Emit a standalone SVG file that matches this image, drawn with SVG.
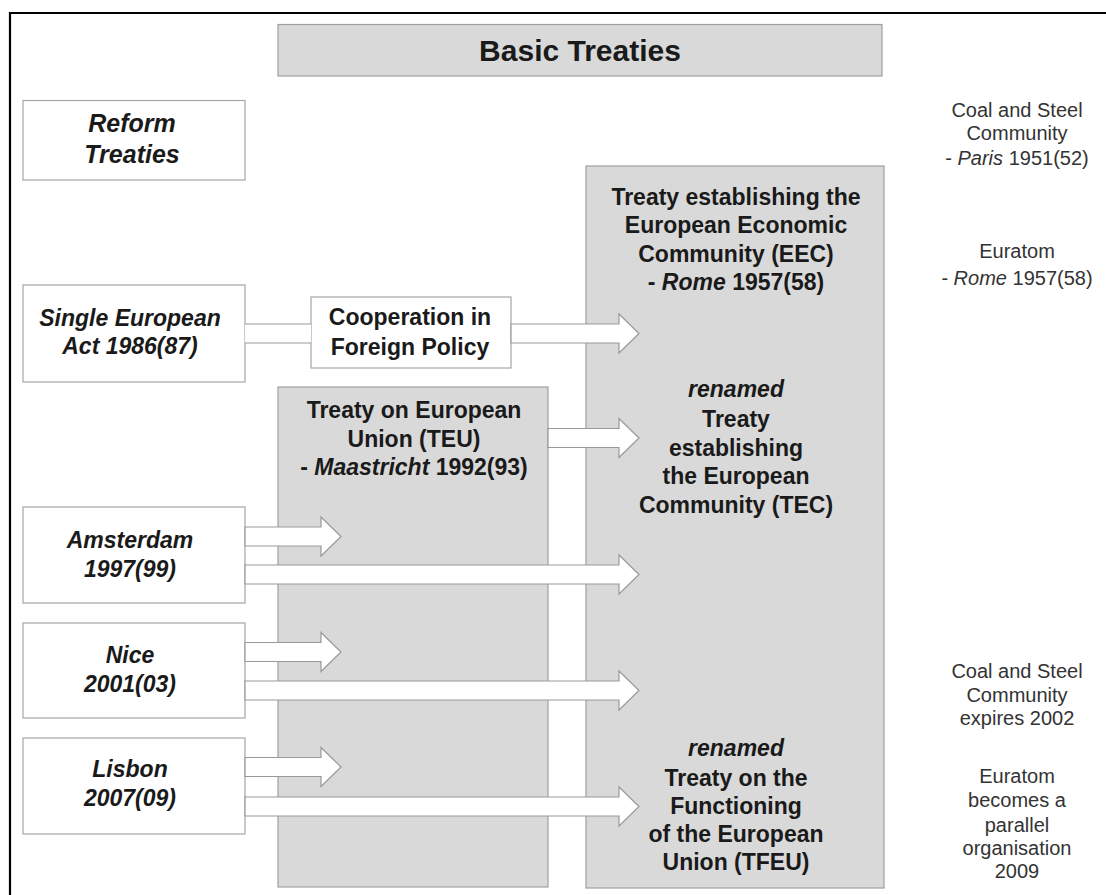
<svg xmlns="http://www.w3.org/2000/svg" width="1106" height="895" viewBox="0 0 1106 895">
<style>
.box{fill:#ffffff;stroke:#a6a6a6;stroke-width:1.2}
.gbox{fill:#d9d9d9;stroke:#a0a0a0;stroke-width:1.2}
.arr{fill:#ffffff;stroke:#999999;stroke-width:1.2}
.ln{stroke:#999999;stroke-width:1.2}
text{font-family:"Liberation Sans",Arial,sans-serif;fill:#1a1a1a;text-anchor:middle}
.t{font-size:23px;font-weight:bold}
.bi{font-size:23px;font-weight:bold;font-style:italic}
.title{font-size:30px;font-weight:bold}
.ref{font-size:25px;font-weight:bold;font-style:italic}
.side{font-size:20px;fill:#333333}
.it{font-style:italic}
</style>
<rect x="0" y="0" width="1106" height="895" fill="#ffffff"/>
<g id="frame">
<line x1="10" y1="13" x2="1106" y2="13" stroke="#000" stroke-width="2.2"/>
<line x1="10" y1="12" x2="10" y2="895" stroke="#000" stroke-width="2.2"/>
</g>
<g id="basic-treaties">
<rect class="gbox" x="278" y="24.5" width="604" height="51.5"/>
<text class="title" x="580" y="61">Basic Treaties</text>
</g>
<g id="reform-treaties">
<rect class="box" x="23" y="100.5" width="222" height="79.5"/>
<text class="ref" x="132" y="132">Reform</text>
<text class="ref" x="132" y="163">Treaties</text>
</g>
<g id="eec">
<rect class="gbox" x="586" y="166" width="298" height="722"/>
<text class="t" x="736" y="205">Treaty establishing the</text>
<text class="t" x="736" y="233">European Economic</text>
<text class="t" x="736" y="262">Community (EEC)</text>
<text class="t" x="736" y="290">- <tspan class="it">Rome</tspan> 1957(58)</text>
<text class="bi" x="736" y="397">renamed</text>
<text class="t" x="736" y="427">Treaty</text>
<text class="t" x="736" y="456">establishing</text>
<text class="t" x="736" y="484">the European</text>
<text class="t" x="736" y="513">Community (TEC)</text>
<text class="bi" x="736" y="756">renamed</text>
<text class="t" x="736" y="786">Treaty on the</text>
<text class="t" x="736" y="814">Functioning</text>
<text class="t" x="736" y="842">of the European</text>
<text class="t" x="736" y="870">Union (TFEU)</text>
</g>
<g id="teu">
<rect class="gbox" x="278" y="387" width="270" height="500"/>
<text class="t" x="414" y="418">Treaty on European</text>
<text class="t" x="414" y="447">Union (TEU)</text>
<text class="t" x="414" y="475">- <tspan class="it">Maastricht</tspan> 1992(93)</text>
</g>
<g id="sea">
<rect class="box" x="23" y="285" width="222" height="97"/>
<text class="bi" x="130" y="326">Single European</text>
<text class="bi" x="130" y="354">Act 1986(87)</text>
</g>
<g id="cooperation">
<rect class="box" x="311" y="297" width="200" height="71"/>
<text class="t" x="410" y="325">Cooperation in</text>
<text class="t" x="410" y="355">Foreign Policy</text>
</g>
<g id="amsterdam">
<rect class="box" x="23" y="507" width="222" height="96"/>
<text class="bi" x="130" y="548">Amsterdam</text>
<text class="bi" x="130" y="577">1997(99)</text>
</g>
<g id="nice">
<rect class="box" x="23" y="623" width="222" height="95"/>
<text class="bi" x="130" y="663">Nice</text>
<text class="bi" x="130" y="692">2001(03)</text>
</g>
<g id="lisbon">
<rect class="box" x="23" y="738" width="222" height="96"/>
<text class="bi" x="130" y="777">Lisbon</text>
<text class="bi" x="130" y="806">2007(09)</text>
</g>
<g id="coal-steel">
<text class="side" x="1017" y="117">Coal and Steel</text>
<text class="side" x="1017" y="140">Community</text>
<text class="side" x="1017" y="165">- <tspan class="it">Paris</tspan> 1951(52)</text>
</g>
<g id="euratom">
<text class="side" x="1017" y="258">Euratom</text>
<text class="side" x="1017" y="285">- <tspan class="it">Rome</tspan> 1957(58)</text>
</g>
<g id="coal-steel-expires">
<text class="side" x="1017" y="678">Coal and Steel</text>
<text class="side" x="1017" y="702">Community</text>
<text class="side" x="1017" y="725">expires 2002</text>
</g>
<g id="euratom-parallel">
<text class="side" x="1017" y="783">Euratom</text>
<text class="side" x="1017" y="807">becomes a</text>
<text class="side" x="1017" y="832">parallel</text>
<text class="side" x="1017" y="855">organisation</text>
<text class="side" x="1017" y="878">2009</text>
</g>
<g id="connectors">
<rect x="245" y="324" width="66" height="19" fill="#ffffff"/>
<line class="ln" x1="245" y1="324" x2="311" y2="324"/>
<line class="ln" x1="245" y1="343" x2="311" y2="343"/>
<polygon class="arr" points="511,324 619,324 619,314 639,333.5 619,353 619,343 511,343"/>
<polygon class="arr" points="548,428.5 619,428.5 619,418.5 639,438 619,457.5 619,447.5 548,447.5"/>
<polygon class="arr" points="245,527 321,527 321,517 341,536.5 321,556 321,546 245,546"/>
<polygon class="arr" points="245,565 619,565 619,555 639,574.5 619,594 619,584 245,584"/>
<polygon class="arr" points="245,642.5 321,642.5 321,632.5 341,652 321,671.5 321,661.5 245,661.5"/>
<polygon class="arr" points="245,681 619,681 619,671 639,690.5 619,710 619,700 245,700"/>
<polygon class="arr" points="245,757.5 321,757.5 321,747.5 341,767 321,786.5 321,776.5 245,776.5"/>
<polygon class="arr" points="245,797 619,797 619,787 639,806.5 619,826 619,816 245,816"/>
</g>
</svg>
